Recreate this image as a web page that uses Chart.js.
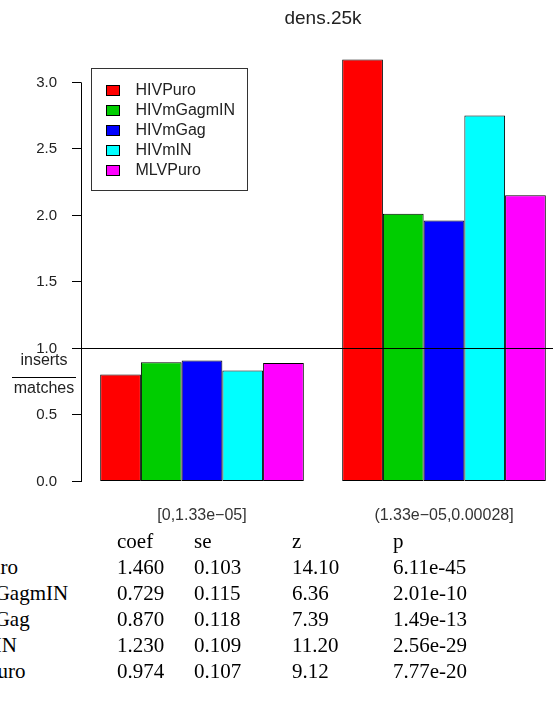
<!DOCTYPE html>
<html lang="en">
<head>
  <meta charset="UTF-8">
  <title>dens.25k</title>
  <script src="https://cdn.jsdelivr.net/npm/chart.js"></script>
  <style>
    body {
      margin: 0;
      background: #fff;
      overflow: hidden;
      width: 553px;
      height: 706px;
      position: relative;
    }
    #wrap {
      position: absolute;
      left: 0;
      top: 0;
      width: 600px;
      height: 530px;
    }
    #stats {
      position: absolute;
      left: 0;
      top: 0;
      font-family: "Liberation Serif", "Times New Roman", serif;
      font-size: 21px;
      line-height: 26px;
      color: #000;
    }
    #stats div {
      position: absolute;
      white-space: nowrap;
    }
  </style>
</head>
<body>
  <div id="wrap"><canvas id="chart" width="600" height="530"></canvas></div>
  <div id="stats"></div>

  <script>
    // groups on the x axis and one series per vector
    const groups = ["[0,1.33e\u221205]", "(1.33e\u221205,0.00028]"];
    const vectors = ["HIVPuro", "HIVmGagmIN", "HIVmGag", "HIVmIN", "MLVPuro"];
    const colors = ["#ff0000", "#00cd00", "#0000ff", "#00ffff", "#ff00ff"];

    // inserts / matches, per vector: [low density, high density]
    const lowDens  = [0.805, 0.897, 0.910, 0.835, 0.890];
    const highDens = [3.172, 2.013, 1.961, 2.751, 2.151];

    const yTicks = [0, 0.5, 1.0, 1.5, 2.0, 2.5, 3.0];
    const yMax = 3.29;
    const refLine = 1.0;

    // fit table under the plot
    const statCols = ["coef", "se", "z", "p"];
    const coefVals = ["1.460", "0.729", "0.870", "1.230", "0.974"];
    const seVals   = ["0.103", "0.115", "0.118", "0.109", "0.107"];
    const zVals    = ["14.10", "6.36", "7.39", "11.20", "9.12"];
    const pVals    = ["6.11e-45", "2.01e-10", "1.49e-13", "2.56e-29", "7.77e-20"];

    const TEXT = "#222";
    const SANS = "'Liberation Sans', Arial, sans-serif";

    const datasets = vectors.map((name, i) => ({
      label: name,
      data: [lowDens[i], highDens[i]],
      backgroundColor: colors[i],
      borderColor: "#000",
      borderWidth: 1,
      borderSkipped: false,
      categoryPercentage: 0.8415,
      barPercentage: 1.0
    }));

    // axis line (0 to 3), reference line, y label and boxed legend
    const extras = {
      id: "extras",
      afterDraw(chart) {
        const { ctx, scales } = chart;
        const x = scales.x, y = scales.y;
        ctx.save();
        ctx.strokeStyle = "#000";
        ctx.lineWidth = 1;

        const ax = Math.round(x.left) + 0.5;
        const y0 = y.getPixelForValue(yTicks[0]);
        const y3 = y.getPixelForValue(yTicks[yTicks.length - 1]);
        ctx.beginPath();
        ctx.moveTo(ax, y0 + 0.5);
        ctx.lineTo(ax, y3);
        ctx.stroke();

        const ry = Math.round(y.getPixelForValue(refLine)) + 0.5;
        ctx.beginPath();
        ctx.moveTo(ax, ry);
        ctx.lineTo(x.right, ry);
        ctx.stroke();

        // y label as a fraction
        ctx.fillStyle = TEXT;
        ctx.font = "16px " + SANS;
        ctx.textAlign = "center";
        ctx.textBaseline = "middle";
        ctx.fillText("inserts", 44, 361);
        ctx.fillText("matches", 44, 389);
        ctx.beginPath();
        ctx.moveTo(12, 377.5);
        ctx.lineTo(76, 377.5);
        ctx.stroke();

        // legend
        const bx = Math.round(x.left) + 10.5, by = 68.5;
        ctx.strokeStyle = "#333";
        ctx.strokeRect(bx, by, 156, 122);
        ctx.textAlign = "left";
        chart.data.datasets.forEach((ds, i) => {
          const cy = by + 22 + i * 20;
          ctx.fillStyle = ds.backgroundColor;
          ctx.fillRect(bx + 15, cy - 5, 13, 10);
          ctx.strokeStyle = "#000";
          ctx.strokeRect(bx + 15, cy - 5, 13, 10);
          ctx.fillStyle = TEXT;
          ctx.fillText(ds.label, bx + 44, cy);
        });
        ctx.restore();
      }
    };

    new Chart(document.getElementById("chart"), {
      type: "bar",
      data: { labels: groups, datasets },
      options: {
        responsive: false,
        animation: false,
        layout: { padding: { left: 0, right: 35, top: 0, bottom: 0 } },
        plugins: {
          legend: { display: false },
          tooltip: { enabled: false },
          title: {
            display: true,
            text: "dens.25k",
            fullSize: false,
            color: TEXT,
            font: { family: SANS, size: 19, weight: "normal" },
            padding: { top: 7, bottom: 14 }
          }
        },
        scales: {
          x: {
            grid: { display: false, drawTicks: false },
            border: { display: false },
            ticks: { color: "#333", font: { family: SANS, size: 16 }, padding: 24 },
            afterFit(scale) { scale.height = 530 - 481.5; }
          },
          y: {
            min: 0,
            max: yMax,
            grid: { drawOnChartArea: false, color: "#000", tickLength: 9 },
            border: { display: false },
            ticks: {
              color: TEXT,
              font: { family: SANS, size: 15 },
              padding: 15,
              callback: v => v.toFixed(1)
            },
            afterBuildTicks(scale) { scale.ticks = yTicks.map(v => ({ value: v })); },
            afterFit(scale) { scale.width = 81; }
          }
        }
      },
      plugins: [extras]
    });

    // table of coefficients
    const stats = document.getElementById("stats");
    const colX = [117, 194, 292, 393];
    function put(text, x, top) {
      const d = document.createElement("div");
      d.textContent = text;
      d.style.left = x + "px";
      d.style.top = top + "px";
      stats.appendChild(d);
    }
    statCols.forEach((c, j) => put(c, colX[j], 528));
    const cols = [coefVals, seVals, zVals, pVals];
    vectors.forEach((name, i) => {
      const top = 554 + i * 26;
      put(name, -59, top);
      cols.forEach((vals, j) => put(vals[i], colX[j], top));
    });
  </script>
</body>
</html>
